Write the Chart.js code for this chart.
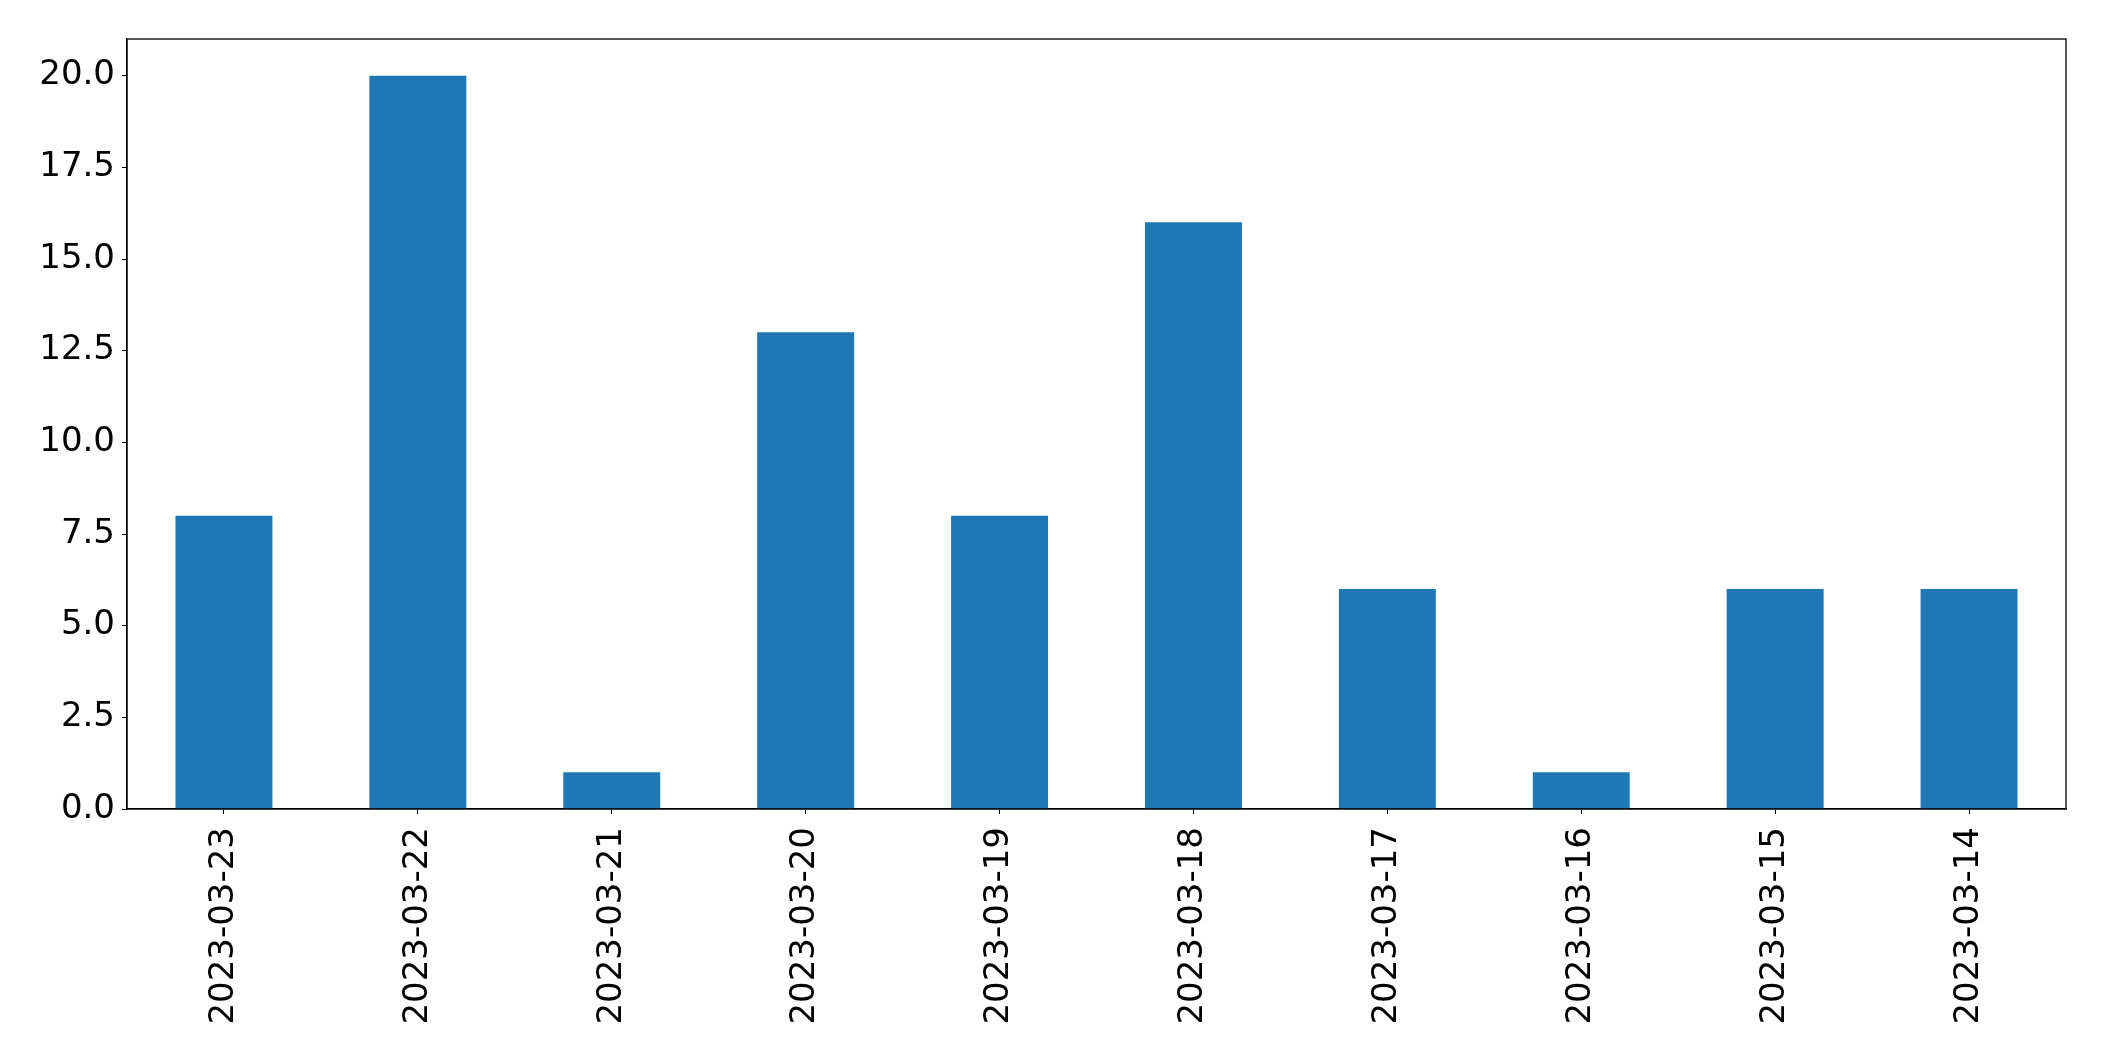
<!DOCTYPE html>
<html>
<head>
<meta charset="utf-8">
<script src="https://cdn.jsdelivr.net/npm/chart.js@4/dist/chart.umd.min.js"></script>
<style>
  html, body { margin: 0; padding: 0; background: #fff; }
  #wrap { width: 2104px; height: 1061px; position: relative; }
</style>
</head>
<body>
<div id="wrap"><canvas id="c" width="2104" height="1061"></canvas></div>
<script>
const categories = ["2023-03-23","2023-03-22","2023-03-21","2023-03-20","2023-03-19","2023-03-18","2023-03-17","2023-03-16","2023-03-15","2023-03-14"];
const counts = [8, 20, 1, 13, 8, 16, 6, 1, 6, 6];
const yTickValues = [0, 2.5, 5, 7.5, 10, 12.5, 15, 17.5, 20];
const yMax = 21;

const FONT = "'DejaVu Sans', sans-serif";

const frame = {
  id: 'frame',
  afterDraw(chart) {
    const a = chart.chartArea, ctx = chart.ctx;
    ctx.save();
    ctx.strokeStyle = '#000';
    ctx.lineWidth = 1.3;
    ctx.strokeRect(a.left, a.top, a.right - a.left, a.bottom - a.top);
    ctx.restore();
  }
};

new Chart(document.getElementById('c'), {
  type: 'bar',
  data: {
    labels: categories,
    datasets: [{ data: counts, backgroundColor: '#1f77b4', borderWidth: 0,
                 categoryPercentage: 1.0, barPercentage: 0.5 }]
  },
  options: {
    responsive: false,
    animation: false,
    devicePixelRatio: 1,
    layout: { padding: { top: 39, right: 38, left: 0, bottom: 0 } },
    plugins: { legend: { display: false }, tooltip: { enabled: false } },
    scales: {
      x: {
        offset: true,
        grid: { display: true, drawOnChartArea: false, drawTicks: true, tickLength: 5, color: '#000', offset: false },
        border: { display: true, color: '#000', width: 1.3 },
        ticks: { color: '#000', font: { family: FONT, size: 34 }, minRotation: 90, maxRotation: 90, padding: 13, autoSkip: false },
        afterFit(s) { s.height = 1061 - 809; }
      },
      y: {
        min: 0, max: yMax,
        grid: { display: true, drawOnChartArea: false, drawTicks: true, tickLength: 5, color: '#000' },
        border: { display: true, color: '#000', width: 1.3 },
        afterBuildTicks(s) { s.ticks = yTickValues.map(v => ({ value: v })); },
        ticks: { color: '#000', font: { family: FONT, size: 34 }, padding: 7,
                 callback: v => Number(v).toFixed(1) },
        afterFit(s) { s.width = 127; }
      }
    }
  },
  plugins: [frame]
});
</script>
</body>
</html>
